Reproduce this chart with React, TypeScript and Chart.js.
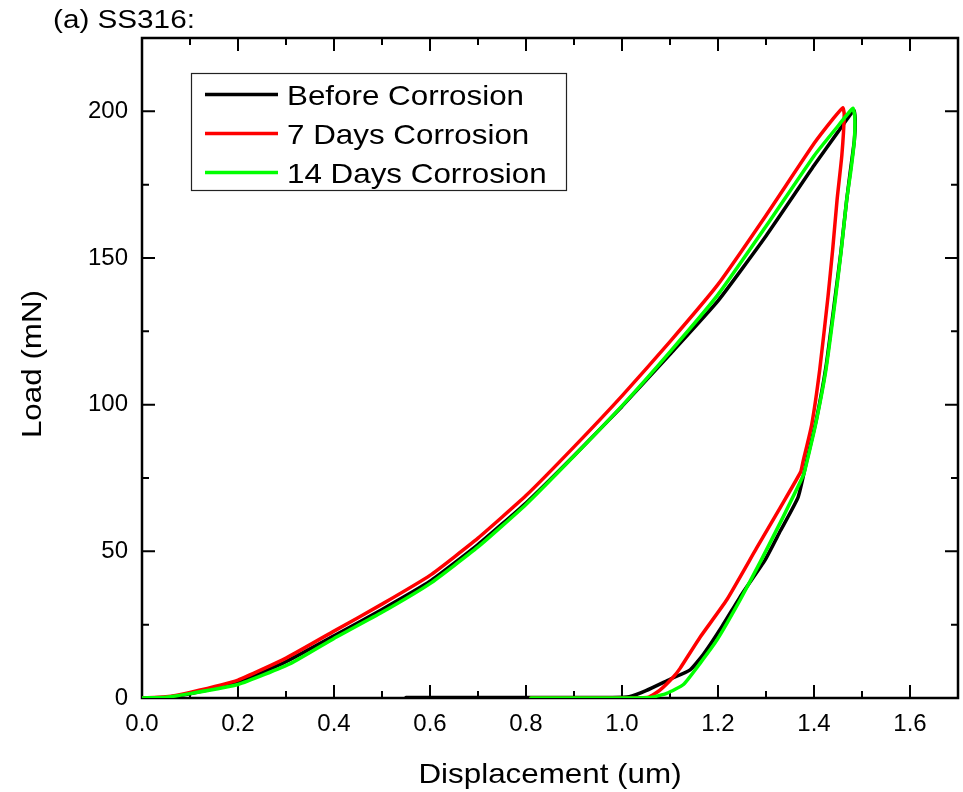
import { useEffect, useRef } from "react";
import { Chart, registerables } from "chart.js";

Chart.register(...registerables);

// Axis ticks
const xTickValues = [0, 0.2, 0.4, 0.6, 0.8, 1.0, 1.2, 1.4, 1.6];
const yTickValues = [0, 50, 100, 150, 200];
const xRange = [0, 1.7];
const yRange = [0, 225];

const chartTitle = "(a) SS316:";
const xTitle = "Displacement (um)";
const yTitle = "Load (mN)";

const seriesNames = ["Before Corrosion", "7 Days Corrosion", "14 Days Corrosion"];
const seriesColors = ["#000000", "#ff0000", "#00ff00"];

// Before corrosion: loading then unloading (displacement in um, load in mN)
const beforeDisp = [
  0, 0.05, 0.1, 0.2, 0.3, 0.4, 0.5, 0.6, 0.7, 0.8, 0.9, 1.0, 1.1, 1.2, 1.3, 1.4, 1.45, 1.483,
  1.486, 1.484, 1.476, 1.468, 1.456, 1.444, 1.425, 1.405, 1.385, 1.367, 1.33, 1.298, 1.25, 1.208,
  1.17, 1.142, 1.1, 1.05, 1.015, 0.98, 0.55,
];
const beforeLoad = [
  0, 0.3, 1.4, 5.2, 12.4, 21.2, 30.2, 39.8, 52.3, 66.5, 82.6, 99.4, 117.2, 135.4, 157.5, 181.5, 193, 200.3,
  197, 190, 180, 169.7, 152, 136.6, 113, 95, 81, 68.5, 57, 47, 35.5, 24.3,
  15, 9.6, 6.4, 2.5, 0.4, 0.2, 0.2,
];

// 7 days corrosion
const day7Disp = [
  0, 0.05, 0.1, 0.2, 0.3, 0.4, 0.5, 0.6, 0.7, 0.8, 0.9, 1.0, 1.1, 1.2, 1.3, 1.4, 1.44, 1.46,
  1.463, 1.458, 1.448, 1.439, 1.429, 1.412, 1.395, 1.377, 1.372, 1.33, 1.28, 1.218, 1.163, 1.121,
  1.106, 1.079, 1.055, 1.0, 0.81,
];
const day7Load = [
  0, 0.4, 1.9, 6.1, 13.6, 22.8, 32.0, 41.8, 54.5, 69, 85.6, 103, 121.5, 141, 164.5, 189, 197.5, 201.2,
  199, 185, 169.7, 153, 136.6, 112, 93, 80.5, 77, 65, 51, 33.4, 20.8, 10.1,
  7.0, 2.7, 0.3, 0, 0,
];

// 14 days corrosion
const day14Disp = [
  0, 0.05, 0.1, 0.2, 0.31, 0.4, 0.5, 0.6, 0.7, 0.8, 0.9, 1.0, 1.1, 1.2, 1.3, 1.4, 1.45, 1.481,
  1.485, 1.484, 1.477, 1.468, 1.457, 1.445, 1.425, 1.403, 1.383, 1.378, 1.335, 1.29, 1.246, 1.198,
  1.163, 1.128, 1.093, 1.06, 1.0, 0.81,
];
const day14Load = [
  0, 0.3, 1.5, 4.6, 11.8, 20.3, 29.2, 39.0, 51.5, 66.0, 82.5, 99.6, 118, 137.5, 160.8, 184.8, 195, 201,
  198, 190, 180, 169.7, 153, 136.6, 112, 93, 79, 76, 61.5, 47, 33.4, 19.8,
  11.9, 4.6, 1.6, 0.2, 0, 0,
];

const FONT = "'Liberation Sans', Arial, Helvetica, sans-serif";
const STRETCH = 1.12;

function toPoints(xs: number[], ys: number[]) {
  return xs.map((x, i) => ({ x, y: ys[i] }));
}

function stretchedText(
  ctx: CanvasRenderingContext2D,
  text: string,
  x: number,
  y: number,
  align: CanvasTextAlign,
  rotate = 0
) {
  ctx.save();
  ctx.translate(x, y);
  if (rotate) ctx.rotate(rotate);
  ctx.scale(STRETCH, 1);
  ctx.textAlign = align;
  ctx.textBaseline = "alphabetic";
  ctx.fillText(text, 0, 0);
  ctx.restore();
}

// Box frame with inward major/minor ticks on all four sides
const framePlugin = {
  id: "frameTicks",
  beforeDatasetsDraw(chart: any) {
    const { ctx, chartArea: a, scales } = chart;
    const xs = scales.x;
    const ys = scales.y;
    const major = 13;
    const minor = 7;
    ctx.save();
    ctx.strokeStyle = "#000";
    ctx.lineWidth = 2;
    ctx.lineCap = "butt";

    const xStep = (xTickValues[1] - xTickValues[0]) / 2;
    const nx = Math.round((xRange[1] - xRange[0]) / xStep);
    for (let i = 0; i <= nx; i++) {
      const v = xRange[0] + i * xStep;
      const px = xs.getPixelForValue(v);
      const len = i % 2 === 0 ? major : minor;
      ctx.beginPath();
      ctx.moveTo(px, a.bottom);
      ctx.lineTo(px, a.bottom - len);
      ctx.moveTo(px, a.top);
      ctx.lineTo(px, a.top + len);
      ctx.stroke();
    }
    const yStep = (yTickValues[1] - yTickValues[0]) / 2;
    const ny = Math.round((yRange[1] - yRange[0]) / yStep);
    for (let i = 0; i <= ny; i++) {
      const v = yRange[0] + i * yStep;
      const py = ys.getPixelForValue(v);
      const len = i % 2 === 0 ? major : minor;
      ctx.beginPath();
      ctx.moveTo(a.left, py);
      ctx.lineTo(a.left + len, py);
      ctx.moveTo(a.right, py);
      ctx.lineTo(a.right - len, py);
      ctx.stroke();
    }
    ctx.lineWidth = 2.5;
    ctx.strokeRect(a.left, a.top, a.right - a.left, a.bottom - a.top);
    ctx.restore();
  },
  afterDraw(chart: any) {
    const { ctx, chartArea: a } = chart;
    ctx.save();
    ctx.fillStyle = "#000";

    // Title
    ctx.font = `26.5px ${FONT}`;
    stretchedText(ctx, chartTitle, 53, 28, "left");

    // Axis titles
    ctx.font = `28px ${FONT}`;
    stretchedText(ctx, xTitle, (a.left + a.right) / 2, 783, "center");
    stretchedText(ctx, yTitle, 41, (a.top + a.bottom) / 2 - 4, "center", -Math.PI / 2);

    // Legend
    const bx = a.left + 49;
    const by = a.top + 35;
    const bw = 375;
    const bh = 117;
    ctx.fillStyle = "#fff";
    ctx.fillRect(bx, by, bw, bh);
    ctx.strokeStyle = "#222";
    ctx.lineWidth = 1.2;
    ctx.strokeRect(bx + 0.5, by + 0.5, bw, bh);
    ctx.font = `28px ${FONT}`;
    seriesNames.forEach((name, i) => {
      const cy = by + 21.5 + i * 39;
      ctx.strokeStyle = seriesColors[i];
      ctx.lineWidth = 3.5;
      ctx.beginPath();
      ctx.moveTo(bx + 14, cy);
      ctx.lineTo(bx + 87, cy);
      ctx.stroke();
      ctx.fillStyle = "#000";
      stretchedText(ctx, name, bx + 96, cy + 10.5, "left");
    });
    ctx.restore();
  },
};

export default function App() {
  const canvasRef = useRef<HTMLCanvasElement | null>(null);

  useEffect(() => {
    const canvas = canvasRef.current;
    if (!canvas) return;

    const series = [
      toPoints(beforeDisp, beforeLoad),
      toPoints(day7Disp, day7Load),
      toPoints(day14Disp, day14Load),
    ];
    const drawOrder = [2, 1, 0];

    const chart = new Chart(canvas, {
      type: "line",
      data: {
        datasets: series.map((data, i) => ({
          label: seriesNames[i],
          data,
          borderColor: seriesColors[i],
          backgroundColor: seriesColors[i],
          borderWidth: 3.5,
          pointRadius: 0,
          tension: 0.15,
          fill: false,
          borderJoinStyle: "round" as const,
          borderCapStyle: "round" as const,
          order: drawOrder[i],
        })),
      },
      options: {
        responsive: false,
        animation: false,
        events: [],
        layout: { padding: { top: 38, right: 5, left: 0, bottom: 0 } },
        plugins: {
          legend: { display: false },
          tooltip: { enabled: false },
          title: { display: false },
        },
        scales: {
          x: {
            type: "linear",
            min: xRange[0],
            max: xRange[1],
            grid: { display: false, drawTicks: false, tickLength: 0 },
            border: { display: false },
            afterBuildTicks: (scale: any) => {
              scale.ticks = xTickValues.map((v) => ({ value: v }));
            },
            afterFit: (scale: any) => {
              scale.height = 94;
            },
            ticks: {
              color: "#000",
              padding: 12,
              maxRotation: 0,
              autoSkip: false,
              font: { family: FONT, size: 24 },
              callback: (v: any) => Number(v).toFixed(1),
            },
          },
          y: {
            type: "linear",
            min: yRange[0],
            max: yRange[1],
            grid: { display: false, drawTicks: false, tickLength: 0 },
            border: { display: false },
            afterBuildTicks: (scale: any) => {
              scale.ticks = yTickValues.map((v) => ({ value: v }));
            },
            afterFit: (scale: any) => {
              scale.width = 142;
            },
            ticks: {
              color: "#000",
              padding: 14,
              autoSkip: false,
              font: { family: FONT, size: 24 },
              callback: (v: any) => String(v),
            },
          },
        },
      },
      plugins: [framePlugin],
    });

    return () => chart.destroy();
  }, []);

  return (
    <div style={{ position: "absolute", left: 0, top: 0, width: 963, height: 792, background: "#fff" }}>
      <canvas ref={canvasRef} width={963} height={792} style={{ display: "block", width: 963, height: 792 }} />
    </div>
  );
}
